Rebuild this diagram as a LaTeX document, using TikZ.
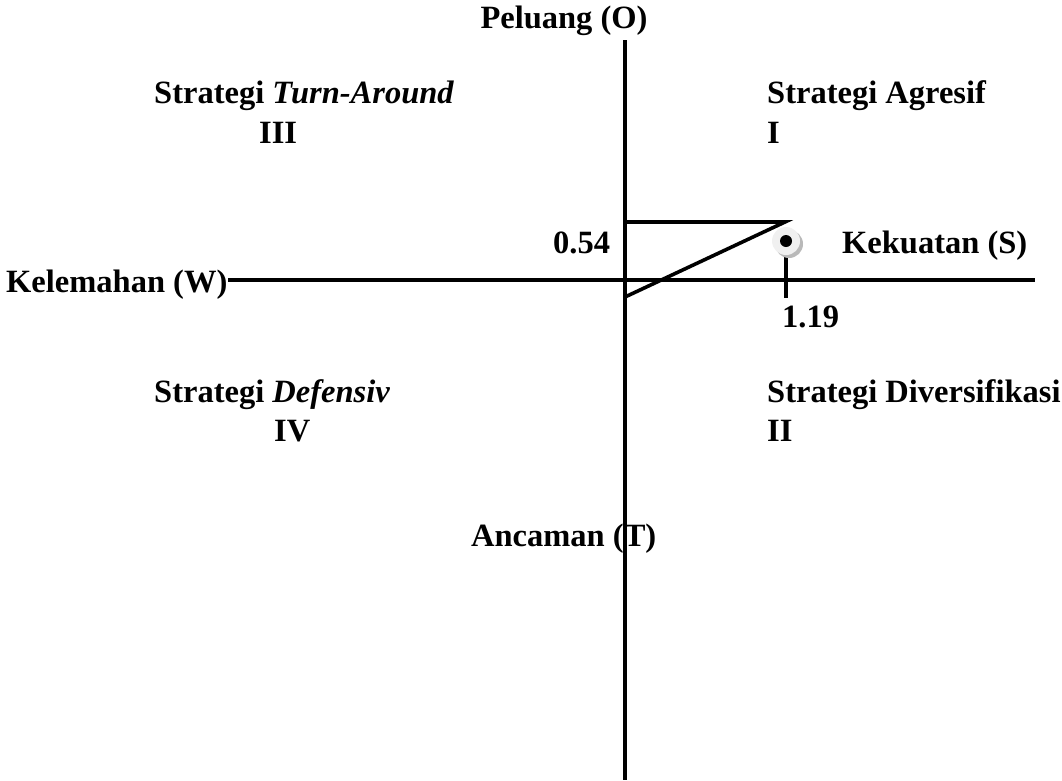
\documentclass[tikz,border=0pt]{standalone}
\usepackage{fontspec}
\setmainfont{Liberation Serif}
\begin{document}
\begin{tikzpicture}[x=1pt,y=-1pt,
  lbl/.style={font=\fontsize{32.5}{40}\selectfont\bfseries, inner sep=0pt, anchor=base west},
  axis/.style={line width=4pt},
  ln/.style={line width=3.6pt}]
\useasboundingbox (0,0) rectangle (1062,780);
% labels
\node[lbl, anchor=base] (O) at (564,28) {Peluang (O)};
\node[lbl] (q3) at (154,103) {Strategi \textit{Turn-Around}};
\node[lbl] (q3n) at (259,143) {III};
\node[lbl] (q1) at (767,103) {Strategi Agresif};
\node[lbl] (q1n) at (767,143) {I};
\node[lbl] (v054) at (553,253) {0.54};
\node[lbl] (S) at (842,253) {Kekuatan (S)};
\node[lbl] (W) at (6,292) {Kelemahan (W)};
\node[lbl] (v119) at (782,327) {1.19};
\node[lbl] (q4) at (154,402) {Strategi \textit{Defensiv}};
\node[lbl] (q4n) at (274,441) {IV};
\node[lbl] (q2) at (767,402) {Strategi Diversifikasi};
\node[lbl] (q2n) at (767,441) {II};
\node[lbl] (T) at (471,546) {Ancaman (T)};
% coordinates
\coordinate (vtop) at (625,40);
\coordinate (vbot) at (625,780);
\coordinate (hleft) at (228,280);
\coordinate (hright) at (1035,280);
\coordinate (a) at (625,222);
\coordinate (b) at (785,222);
\coordinate (c) at (625,297);
\coordinate (tk1) at (786,256);
\coordinate (tk2) at (786,298);
% axes
\draw[axis] (hleft) -- (hright);
\draw[axis] (vtop) -- (vbot);
% construction lines
\draw[ln] (a) -- (b) -- (c);
\draw[ln] (tk1) -- (tk2);
% point marker
\node[circle, fill=gray!55, inner sep=0pt, minimum size=28pt] (ptsh) at (789,244) {};
\node[circle, fill=gray!12, inner sep=0pt, minimum size=28pt] (ptbg) at (786,241) {};
\node[circle, fill=black, inner sep=0pt, minimum size=12pt] (pt) at (786,241) {};
\end{tikzpicture}
\end{document}
